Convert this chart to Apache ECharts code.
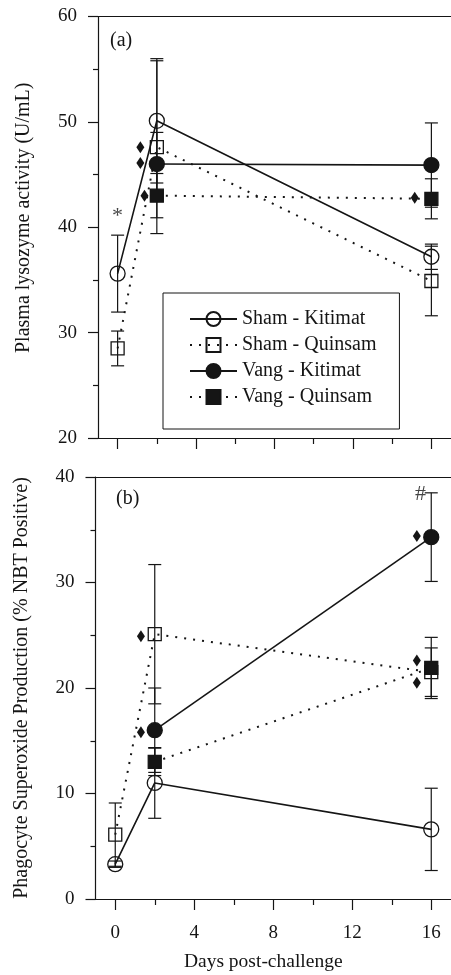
<!DOCTYPE html>
<html>
<head>
<meta charset="utf-8">
<script src="https://cdn.jsdelivr.net/npm/echarts@6/dist/echarts.min.js"></script>
<style>
  html, body { margin: 0; padding: 0; background: #fff; }
  #main { width: 451px; height: 975px; }
</style>
</head>
<body>
<div id="main"></div>
<script>
// Days sampled
const days = [0, 2, 16];

// Panel (a): plasma lysozyme activity (U/mL), mean and SE
const shamKitA = [35.6, 50.1, 37.2];
const shamKitAErr = [3.65, 5.9, 1.2];
const shamQuiA = [28.5, 47.6, 34.9];
const shamQuiAErr = [1.65, 8.2, 3.3];
const vangKitA = [null, 46.0, 45.9];
const vangKitAErr = [null, 3.0, 4.0];
const vangQuiA = [null, 43.0, 42.7];
const vangQuiAErr = [null, 2.1, 1.9];

// Panel (b): phagocyte superoxide production (% NBT positive)
const shamKitB = [3.3, 11.0, 6.6];
const shamKitBErr = [0.3, 3.35, 3.9];
const shamQuiB = [6.1, 25.1, 21.5];
const shamQuiBErr = [3.0, 6.6, 2.3];
const vangKitB = [null, 16.0, 34.3];
const vangKitBErr = [null, 4.0, 4.2];
const vangQuiB = [null, 13.0, 21.9];
const vangQuiBErr = [null, 1.3, 2.9];

// significance diamonds [day, value]
const diamondsA = [[1.16, 47.6], [1.16, 46.1], [1.37, 43.0], [15.15, 42.8]];
const diamondsB = [[1.3, 24.9], [1.3, 15.8], [15.27, 34.4], [15.27, 22.6], [15.27, 20.5]];

// other marks [day, value, text]
const notesA = [[0, 41.0, "*"]];
const notesB = [[15.45, 38.4, "#"]];

// tick labels
const xMajorTicks = [0, 4, 8, 12, 16];
const xMinorTicks = [2, 6, 10, 14];

const seriesNames = ["Sham - Kitimat", "Sham - Quinsam", "Vang - Kitimat", "Vang - Quinsam"];

const ink = "#151515";
const font = "Liberation Serif";

const toPoints = (vals) => days.map((d, i) => (vals[i] == null ? null : [d, vals[i]])).filter(Boolean);
const toErr = (vals, errs) =>
  days.map((d, i) => (vals[i] == null ? null : [d, vals[i] - errs[i], vals[i] + errs[i]])).filter(Boolean);

// line styles for the four groups
const styles = [
  { symbol: "circle", size: 15, fill: "transparent", dash: "solid" },
  { symbol: "rect", size: 13, fill: "transparent", dash: [2, 7] },
  { symbol: "circle", size: 15, fill: ink, dash: "solid" },
  { symbol: "rect", size: 13, fill: ink, dash: [2, 7] },
];

const errorBarSeries = (data, xi, yi) => ({
  type: "custom",
  xAxisIndex: xi,
  yAxisIndex: yi,
  silent: true,
  z: 1,
  data: data,
  renderItem: (params, api) => {
    const top = api.coord([api.value(0), api.value(2)]);
    const bot = api.coord([api.value(0), api.value(1)]);
    const w = 6.5;
    const st = { stroke: ink, lineWidth: 1.2 };
    return {
      type: "group",
      children: [
        { type: "line", shape: { x1: top[0], y1: top[1], x2: bot[0], y2: bot[1] }, style: st },
        { type: "line", shape: { x1: top[0] - w, y1: top[1], x2: top[0] + w, y2: top[1] }, style: st },
        { type: "line", shape: { x1: bot[0] - w, y1: bot[1], x2: bot[0] + w, y2: bot[1] }, style: st },
      ],
    };
  },
});

const lineSeries = (name, vals, k, xi, yi) => ({
  name: name,
  type: "line",
  xAxisIndex: xi,
  yAxisIndex: yi,
  data: toPoints(vals),
  symbol: styles[k].symbol,
  symbolSize: styles[k].size,
  z: 3,
  lineStyle: { color: ink, width: styles[k].dash === "solid" ? 1.6 : 2, type: styles[k].dash },
  itemStyle: { color: styles[k].fill, borderColor: ink, borderWidth: 1.3, opacity: 1 },
  emphasis: { disabled: true },
});

const diamondSeries = (data, xi, yi) => ({
  type: "scatter",
  xAxisIndex: xi,
  yAxisIndex: yi,
  symbol: "diamond",
  symbolSize: [8, 12],
  itemStyle: { color: ink, opacity: 1 },
  data: data,
  z: 4,
});

const noteSeries = (data, xi, yi) => ({
  type: "scatter",
  xAxisIndex: xi,
  yAxisIndex: yi,
  symbolSize: 1,
  itemStyle: { color: "transparent" },
  data: data.map((n) => ({ name: n[2], value: [n[0], n[1]] })),
  label: {
    show: true,
    position: "inside",
    formatter: "{b}",
    color: ink,
    fontFamily: font,
    fontSize: 22,
  },
  z: 4,
});

const panelSeries = (sets, diamonds, notes, xi, yi) => {
  const out = [];
  sets.forEach((s) => out.push(errorBarSeries(toErr(s[0], s[1]), xi, yi)));
  sets.forEach((s, k) => out.push(lineSeries(seriesNames[k], s[0], k, xi, yi)));
  out.push(diamondSeries(diamonds, xi, yi));
  out.push(noteSeries(notes, xi, yi));
  return out;
};

const axisLine = { show: true, onZero: false, lineStyle: { color: ink, width: 1.2 } };

const xAxesFor = (gi, withLabels) => [
  {
    type: "value",
    gridIndex: gi,
    position: "bottom",
    min: -1,
    max: 17,
    axisLine: axisLine,
    axisTick: { show: true, customValues: xMajorTicks, length: 11, lineStyle: { color: ink, width: 1.2 } },
    axisLabel: withLabels
      ? { show: true, customValues: xMajorTicks, margin: 25, color: ink, fontFamily: font, fontSize: 19 }
      : { show: false },
    splitLine: { show: false },
    name: withLabels ? "Days post-challenge" : "",
    nameLocation: "middle",
    nameGap: 53,
    nameTextStyle: { color: ink, fontFamily: font, fontSize: 19.5, padding: [0, 20, 0, 0] },
  },
  {
    type: "value",
    gridIndex: gi,
    position: "bottom",
    min: -1,
    max: 17,
    axisLine: { show: false, onZero: false },
    axisTick: { show: true, customValues: xMinorTicks, length: 6, lineStyle: { color: ink, width: 1.2 } },
    axisLabel: { show: false },
    splitLine: { show: false },
  },
  {
    type: "value",
    gridIndex: gi,
    position: "top",
    min: -1,
    max: 17,
    axisLine: axisLine,
    axisTick: { show: false },
    axisLabel: { show: false },
    splitLine: { show: false },
  },
];

const yAxisFor = (gi, min, max, name, pad) => ({
  type: "value",
  gridIndex: gi,
  min: min,
  max: max,
  interval: 10,
  axisLine: axisLine,
  axisTick: { show: true, length: 10, lineStyle: { color: ink, width: 1.2 } },
  minorTick: { show: true, splitNumber: 2, length: 5, lineStyle: { color: ink, width: 1.2 } },
  axisLabel: { margin: 21, color: ink, fontFamily: font, fontSize: 19 },
  splitLine: { show: false },
  minorSplitLine: { show: false },
  name: name,
  nameLocation: "middle",
  nameGap: 64,
  nameTextStyle: { color: ink, fontFamily: font, fontSize: 20, padding: pad },
});

const chartConfig = {
  backgroundColor: "#fff",
  animation: false,
  title: [
    { text: "(a)", left: 110, top: 31, padding: 0, textStyle: { color: ink, fontFamily: font, fontSize: 20, fontWeight: "normal" } },
    { text: "(b)", left: 116, top: 489, padding: 0, textStyle: { color: ink, fontFamily: font, fontSize: 20, fontWeight: "normal" } },
  ],
  legend: {
    data: seriesNames,
    orient: "vertical",
    left: 163,
    top: 293,
    padding: [16, 23, 22, 26],
    itemWidth: 47,
    itemHeight: 17.5,
    itemGap: 6,
    itemTextGap: 11,
    selectedMode: false,
    borderColor: ink,
    borderWidth: 1,
    textStyle: { color: ink, fontFamily: font, fontSize: 20 },
  },
  grid: [
    { left: 98, top: 16.5, width: 355.5, height: 421.5 },
    { left: 95.5, top: 477, width: 356.4, height: 422 },
  ],
  xAxis: [...xAxesFor(0, false), ...xAxesFor(1, true)],
  yAxis: [
    yAxisFor(0, 20, 60, "Plasma lysozyme activity (U/mL)", [0, 0, 0, 19]),
    yAxisFor(1, 0, 40, "Phagocyte Superoxide Production (% NBT Positive)", 0),
  ],
  series: [
    ...panelSeries(
      [[shamKitA, shamKitAErr], [shamQuiA, shamQuiAErr], [vangKitA, vangKitAErr], [vangQuiA, vangQuiAErr]],
      diamondsA, notesA, 0, 0
    ),
    ...panelSeries(
      [[shamKitB, shamKitBErr], [shamQuiB, shamQuiBErr], [vangKitB, vangKitBErr], [vangQuiB, vangQuiBErr]],
      diamondsB, notesB, 3, 1
    ),
  ],
};

const chart = echarts.init(document.getElementById("main"));
chart.setOption(chartConfig);
window.addEventListener("resize", () => chart.resize());
</script>
</body>
</html>
